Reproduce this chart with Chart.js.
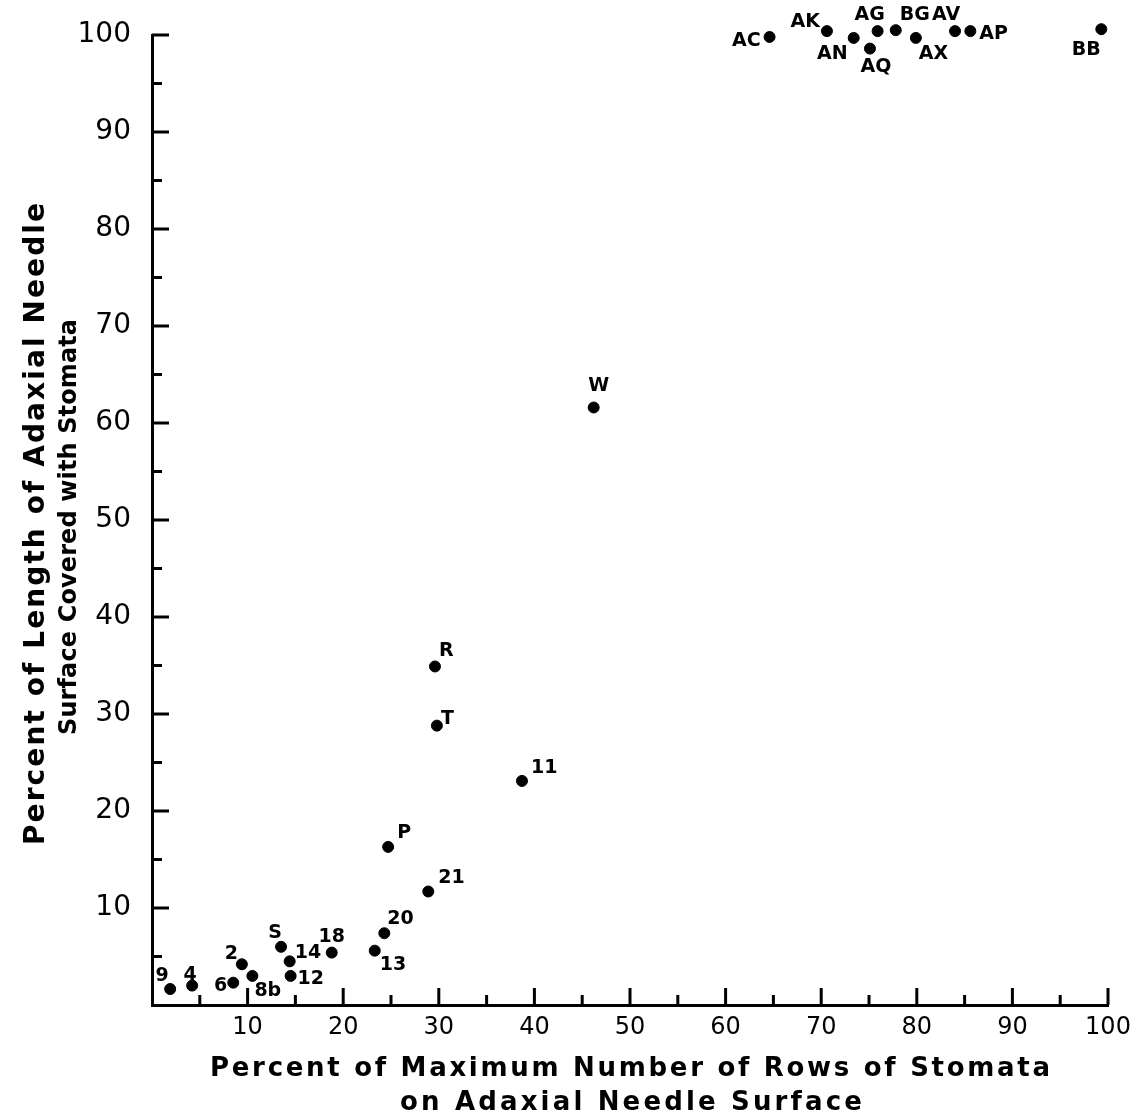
<!DOCTYPE html>
<html>
<head>
<meta charset="utf-8">
<script src="https://cdn.jsdelivr.net/npm/chart.js@4.4.1/dist/chart.umd.min.js"></script>
<style>
  html, body { margin: 0; padding: 0; background: #fff; }
  #wrap { width: 1146px; height: 1115px; }
</style>
</head>
<body>
<div id="wrap"><canvas id="stomataChart"></canvas></div>
<script>
// sample labels and values
const pointNames = ['9', '4', '6', '2', '8b', 'S', '14', '12', '18', '13', '20', 'P', '21', 'R', 'T', '11', 'W',
    'AC', 'AK', 'AN', 'AQ', 'AG', 'BG', 'AX', 'AV', 'AP', 'BB'];
const rowsPct = [1.9, 4.2, 8.5, 9.4, 10.5, 13.5, 14.4, 14.5, 18.8, 23.3, 24.3, 24.7, 28.9, 29.6, 29.8, 38.7, 46.2,
    64.6, 70.6, 73.4, 75.1, 75.9, 77.8, 79.9, 84.0, 85.6, 99.3];
const lengthPct = [1.65, 2.0, 2.3, 4.2, 3.0, 6.0, 4.5, 3.0, 5.4, 5.6, 7.4, 16.3, 11.7, 34.9, 28.8, 23.1, 61.6,
    99.8, 100.4, 99.7, 98.6, 100.4, 100.5, 99.7, 100.4, 100.4, 100.6];
const xTickValues = [10, 20, 30, 40, 50, 60, 70, 80, 90, 100];
const yTickValues = [10, 20, 30, 40, 50, 60, 70, 80, 90, 100];

const xTitleLines = ['Percent of Maximum Number of Rows of Stomata', 'on Adaxial Needle Surface'];
const yTitleLines = ['Percent of Length of Adaxial Needle', 'Surface Covered with Stomata'];

// where each name sits next to its dot: [dx, dy, align]
const labelPlacement = {
    '9': [-8, -13, 'center'], '4': [-2, -11, 'center'], '6': [-6, 3, 'right'], '2': [-4, -10, 'right'],
    '8b': [2, 15, 'left'], 'S': [-6, -14, 'center'], '14': [5, -8, 'left'], '12': [7, 3, 'left'],
    '18': [0, -16, 'center'], '13': [5, 14, 'left'], '20': [3, -14, 'left'], 'P': [9, -14, 'left'],
    '21': [10, -13, 'left'], 'R': [4, -15, 'left'], 'T': [4, -7, 'left'], '11': [9, -13, 'left'],
    'W': [5, -21, 'center'], 'AC': [-9, 4, 'right'], 'AK': [-7, -9, 'right'], 'AN': [-6, 16, 'right'],
    'AQ': [6, 18, 'center'], 'AG': [-8, -16, 'center'], 'BG': [4, -15, 'left'], 'AX': [3, 16, 'left'],
    'AV': [-9, -16, 'center'], 'AP': [9, 3, 'left'], 'BB': [-15, 21, 'center']
};

const FONT = '"DejaVu Sans", sans-serif';

// tick marks drawn inward from the axes, long at tens, short at fives
const innerTicks = {
    id: 'innerTicks',
    afterDraw(chart) {
        const ctx = chart.ctx;
        const area = chart.chartArea;
        const xs = chart.scales.x, ys = chart.scales.y;
        ctx.save();
        ctx.strokeStyle = '#000';
        ctx.lineWidth = 3;
        ctx.lineCap = 'butt';
        for (let v = 5; v <= 100; v += 5) {
            const len = v % 10 === 0 ? 17 : 10;
            const px = xs.getPixelForValue(v);
            ctx.beginPath();
            ctx.moveTo(px, area.bottom);
            ctx.lineTo(px, area.bottom - len);
            ctx.stroke();
            const py = ys.getPixelForValue(v);
            ctx.beginPath();
            ctx.moveTo(area.left, py);
            ctx.lineTo(area.left + len, py);
            ctx.stroke();
        }
        ctx.restore();
    }
};

// sample names beside the dots
const pointNameLabels = {
    id: 'pointNameLabels',
    afterDatasetsDraw(chart) {
        const ctx = chart.ctx;
        const meta = chart.getDatasetMeta(0);
        ctx.save();
        ctx.fillStyle = '#000';
        ctx.font = 'bold 19px ' + FONT;
        ctx.textBaseline = 'middle';
        meta.data.forEach((pt, i) => {
            const name = pointNames[i];
            const p = labelPlacement[name] || [6, -12, 'left'];
            ctx.textAlign = p[2];
            ctx.fillText(name, pt.x + p[0], pt.y + p[1]);
        });
        ctx.restore();
    }
};

// spread a line of lettering over the given width, centred on (x, y)
function spacedText(ctx, text, x, y, width) {
    ctx.letterSpacing = '0px';
    const plain = ctx.measureText(text).width;
    const gap = (width - plain) / (text.length - 1);
    ctx.letterSpacing = gap + 'px';
    ctx.textAlign = 'left';
    ctx.fillText(text, x - width / 2, y);
}

// two-line axis titles with the wide lettering of the original
const axisTitles = {
    id: 'axisTitles',
    afterDraw(chart) {
        const ctx = chart.ctx;
        ctx.save();
        ctx.fillStyle = '#000';
        ctx.textBaseline = 'alphabetic';
        ctx.font = 'bold 26px ' + FONT;
        spacedText(ctx, xTitleLines[0], 630, 1076, 840);
        spacedText(ctx, xTitleLines[1], 631, 1110, 462);

        ctx.rotate(-Math.PI / 2);
        ctx.font = 'bold 28px ' + FONT;
        spacedText(ctx, yTitleLines[0], -524, 44, 642);
        ctx.font = 'bold 24px ' + FONT;
        spacedText(ctx, yTitleLines[1], -527, 76, 416);
        ctx.restore();
    }
};

new Chart(document.getElementById('stomataChart'), {
    type: 'scatter',
    data: {
        labels: pointNames,
        datasets: [{
            data: rowsPct.map((x, i) => ({ x: x, y: lengthPct[i] })),
            backgroundColor: '#000',
            borderColor: '#000',
            pointRadius: 5.5,
            pointHoverRadius: 5.5,
            clip: false
        }]
    },
    options: {
        responsive: true,
        maintainAspectRatio: false,
        animation: false,
        layout: { padding: { left: 0, right: 38, top: 35, bottom: 0 } },
        plugins: {
            legend: { display: false },
            tooltip: { enabled: false }
        },
        scales: {
            x: {
                type: 'linear',
                min: 0,
                max: 100,
                afterBuildTicks: scale => { scale.ticks = xTickValues.map(v => ({ value: v })); },
                afterFit: scale => { scale.height = 110; },
                grid: { display: false },
                border: { display: true, color: '#000', width: 3 },
                ticks: {
                    color: '#000',
                    padding: 0,
                    maxRotation: 0,
                    autoSkip: false,
                    font: { family: FONT, size: 24 }
                }
            },
            y: {
                type: 'linear',
                min: 0,
                max: 100,
                afterBuildTicks: scale => { scale.ticks = yTickValues.map(v => ({ value: v })); },
                afterFit: scale => { scale.width = 152; },
                grid: { display: false },
                border: { display: true, color: '#000', width: 3 },
                ticks: {
                    color: '#000',
                    padding: 13,
                    autoSkip: false,
                    font: { family: FONT, size: 28 }
                }
            }
        }
    },
    plugins: [innerTicks, pointNameLabels, axisTitles]
});
</script>
</body>
</html>
